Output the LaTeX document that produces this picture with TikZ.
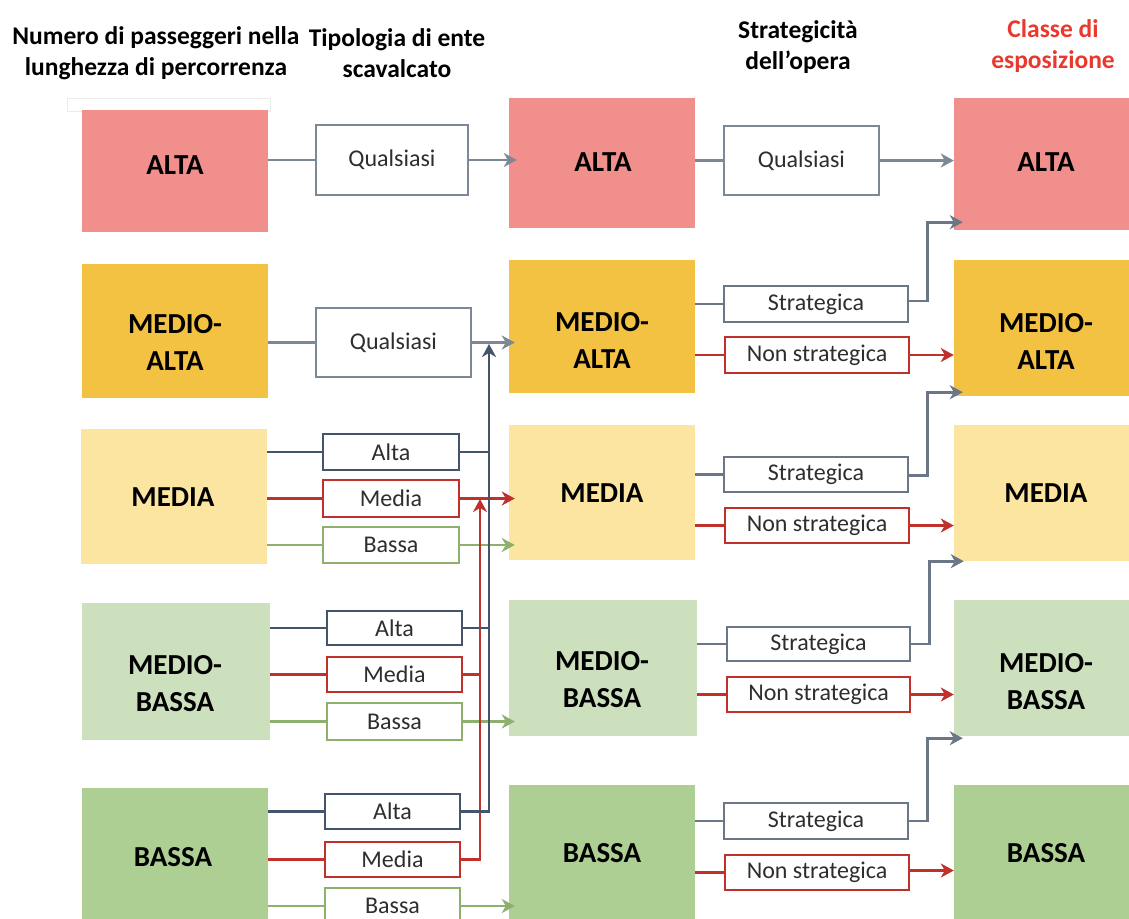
\documentclass[tikz,border=0pt]{standalone}
\usepackage{fontspec}
\setmainfont{Carlito}
\usetikzlibrary{arrows.meta}

\definecolor{clsAlta}{HTML}{F08F8B}
\definecolor{clsMedioAlta}{HTML}{F4C243}
\definecolor{clsMedia}{HTML}{FBE5A1}
\definecolor{clsMedioBassa}{HTML}{CDE0BD}
\definecolor{clsBassa}{HTML}{AECF93}
\definecolor{lnGray}{HTML}{7D8896}
\definecolor{lnSlate}{HTML}{6B7686}
\definecolor{lnDark}{HTML}{44546A}
\definecolor{lnRed}{HTML}{C0312B}
\definecolor{lnGreen}{HTML}{8DB06E}
\definecolor{hdrRed}{HTML}{E8392F}
\definecolor{txtGray}{HTML}{2E2E2E}

\begin{document}
\begin{tikzpicture}[x=1pt,y=-1pt,
  hdr/.style={align=center,font=\bfseries\fontsize{25.5}{31}\selectfont,inner sep=0},
  clsbox/.style={rectangle,draw=none,inner sep=0,minimum width=186pt},
  clstxt/.style={align=center,font=\bfseries\fontsize{29}{37}\selectfont,inner sep=0},
  optbox/.style={rectangle,draw=#1,line width=2.8pt,fill=white,inner sep=0,
    text=txtGray,font=\fontsize{24}{28}\selectfont},
  wire/.style={draw=#1,line width=2.8pt},
  arr/.style={draw=#1,line width=2.8pt,-{Stealth[length=13pt,width=14pt,inset=4pt]}}
]
\useasboundingbox (0,0) rectangle (1129,918);
\clip (0,0) rectangle (1129,918);

% column headings
\node[hdr] (h1) at (156,53) {Numero di passeggeri nella\\lunghezza di percorrenza};
\node[hdr] (h2) at (397,53) {Tipologia di ente\\scavalcato};
\node[hdr] (h3) at (798,47) {Strategicità\\dell’opera};
\node[hdr,text=hdrRed] (h4) at (1053,46) {Classe di\\esposizione};

% thin strip above the first class box
\draw[draw=black!8,fill=white,line width=0.8pt] (67,98) rectangle (270,111);

% left column: passenger classes
\node[clsbox,fill=clsAlta,minimum height=122pt] (L1) at (175,171) {};
\node[clsbox,fill=clsMedioAlta,minimum height=134pt] (L2) at (175,331) {};
\node[clsbox,fill=clsMedia,minimum height=135pt] (L3) at (174,496.5) {};
\node[clsbox,fill=clsMedioBassa,minimum height=137pt,minimum width=188pt] (L4) at (176,671.5) {};
\node[clsbox,fill=clsBassa,minimum height=142pt] (L5) at (175,859) {};
\node[clstxt] (L1t) at (175,165) {ALTA};
\node[clstxt] (L2t) at (175,342) {MEDIO-\\ALTA};
\node[clstxt] (L3t) at (173,497) {MEDIA};
\node[clstxt] (L4t) at (175,684) {MEDIO-\\BASSA};
\node[clstxt] (L5t) at (173,857) {BASSA};

% middle column: intermediate classes
\node[clsbox,fill=clsAlta,minimum height=130pt] (M1) at (602,163) {};
\node[clsbox,fill=clsMedioAlta,minimum height=133pt] (M2) at (602,326.5) {};
\node[clsbox,fill=clsMedia,minimum height=135pt] (M3) at (602,492.5) {};
\node[clsbox,fill=clsMedioBassa,minimum height=136pt,minimum width=188pt] (M4) at (603,668) {};
\node[clsbox,fill=clsBassa,minimum height=140pt] (M5) at (602,855) {};
\node[clstxt] (M1t) at (603,162) {ALTA};
\node[clstxt] (M2t) at (602,340) {MEDIO-\\ALTA};
\node[clstxt] (M3t) at (602,493) {MEDIA};
\node[clstxt] (M4t) at (602,680) {MEDIO-\\BASSA};
\node[clstxt] (M5t) at (602,853) {BASSA};

% right column: exposure classes
\node[clsbox,fill=clsAlta,minimum height=132pt] (R1) at (1047,164) {};
\node[clsbox,fill=clsMedioAlta,minimum height=136pt] (R2) at (1047,328) {};
\node[clsbox,fill=clsMedia,minimum height=136pt] (R3) at (1047,493) {};
\node[clsbox,fill=clsMedioBassa,minimum height=136pt] (R4) at (1047,668) {};
\node[clsbox,fill=clsBassa,minimum height=140pt] (R5) at (1047,855) {};
\node[clstxt] (R1t) at (1046,162) {ALTA};
\node[clstxt] (R2t) at (1046,341) {MEDIO-\\ALTA};
\node[clstxt] (R3t) at (1046,493) {MEDIA};
\node[clstxt] (R4t) at (1046,682) {MEDIO-\\BASSA};
\node[clstxt] (R5t) at (1046,853) {BASSA};

% type of crossed entity
\node[optbox=lnGray,minimum width=152pt,minimum height=70pt] (Q1) at (392,160) {Qualsiasi};
\node[optbox=lnGray,minimum width=155pt,minimum height=69pt] (Q2) at (393.5,342.5) {Qualsiasi};
\node[optbox=lnDark,minimum width=136pt,minimum height=36pt] (A3) at (391,452) {Alta};
\node[optbox=lnRed,minimum width=136pt,minimum height=37pt] (E3) at (391,498.5) {Media};
\node[optbox=lnGreen,minimum width=136pt,minimum height=36pt] (B3) at (391,545) {Bassa};
\node[optbox=lnDark,minimum width=135pt,minimum height=34pt] (A4) at (394.5,628) {Alta};
\node[optbox=lnRed,minimum width=135pt,minimum height=35pt] (E4) at (394.5,674.5) {Media};
\node[optbox=lnGreen,minimum width=135pt,minimum height=37pt] (B4) at (394.5,721.5) {Bassa};
\node[optbox=lnDark,minimum width=135pt,minimum height=35pt] (A5) at (392.5,811.5) {Alta};
\node[optbox=lnRed,minimum width=135pt,minimum height=35pt] (E5) at (392.5,859.5) {Media};
\node[optbox=lnGreen,minimum width=135pt,minimum height=36pt] (B5) at (392.5,906) {Bassa};

% strategic relevance
\node[optbox=lnGray,minimum width=155pt,minimum height=69pt] (S1) at (801.5,160.5) {Qualsiasi};
\node[optbox=lnSlate,minimum width=184pt,minimum height=36pt] (S2) at (816,304) {Strategica};
\node[optbox=lnRed,minimum width=184pt,minimum height=36pt] (N2) at (817,355) {Non strategica};
\node[optbox=lnSlate,minimum width=184pt,minimum height=35pt] (S3) at (816,474.5) {Strategica};
\node[optbox=lnRed,minimum width=184pt,minimum height=35pt] (N3) at (817,525.5) {Non strategica};
\node[optbox=lnSlate,minimum width=183pt,minimum height=34pt] (S4) at (818.5,644) {Strategica};
\node[optbox=lnRed,minimum width=183pt,minimum height=35pt] (N4) at (818.5,694.5) {Non strategica};
\node[optbox=lnSlate,minimum width=184pt,minimum height=36pt] (S5) at (816,821) {Strategica};
\node[optbox=lnRed,minimum width=184pt,minimum height=35pt] (N5) at (817,872.5) {Non strategica};

% bus end points
\coordinate (darkbus) at (489,344);
\coordinate (redbus) at (480,499);

% left column -> type of crossed entity
\draw[wire=lnGray] (Q1.west -| L1.east) -- (Q1.west);
\draw[wire=lnGray] (Q2.west -| L2.east) -- (Q2.west);
\draw[wire=lnDark] (A3.west -| L3.east) -- (A3.west);
\draw[wire=lnRed] (E3.west -| L3.east) -- (E3.west);
\draw[wire=lnGreen] (B3.west -| L3.east) -- (B3.west);
\draw[wire=lnDark] (A4.west -| L4.east) -- (A4.west);
\draw[wire=lnRed] (E4.west -| L4.east) -- (E4.west);
\draw[wire=lnGreen] (B4.west -| L4.east) -- (B4.west);
\draw[wire=lnDark] (A5.west -| L5.east) -- (A5.west);
\draw[wire=lnRed] (E5.west -| L5.east) -- (E5.west);
\draw[wire=lnGreen] (B5.west -| L5.east) -- (B5.west);

% type of crossed entity -> middle column
\draw[arr=lnGray] (Q1.east) -- ([xshift=8pt]Q1.east -| M1.west);
\draw[arr=lnGray] (Q2.east) -- ([xshift=6pt]Q2.east -| M2.west);
\draw[arr=lnRed] (E3.east) -- ([xshift=6pt]E3.east -| M3.west);
\draw[arr=lnGreen] (B3.east) -- ([xshift=6pt]B3.east -| M3.west);
\draw[arr=lnGreen] (B4.east) -- ([xshift=6pt]B4.east -| M4.west);
\draw[arr=lnGreen] (B5.east) -- ([xshift=6pt]B5.east -| M5.west);

% red bus: Media rows rise to MEDIA
\draw[wire=lnRed] (E4.east) -- (E4.east -| redbus);
\draw[arr=lnRed] (E5.east) -| (redbus);

% dark bus: Alta rows rise to MEDIO-ALTA
\draw[wire=lnDark] (A3.east) -- (A3.east -| darkbus);
\draw[wire=lnDark] (A4.east) -- (A4.east -| darkbus);
\draw[arr=lnDark] (A5.east) -| (darkbus);

% middle column -> strategic relevance
\draw[wire=lnGray] (S1.west -| M1.east) -- (S1.west);
\draw[wire=lnSlate] (S2.west -| M2.east) -- (S2.west);
\draw[wire=lnRed] (N2.west -| M2.east) -- (N2.west);
\draw[wire=lnSlate] (S3.west -| M3.east) -- (S3.west);
\draw[wire=lnRed] (N3.west -| M3.east) -- (N3.west);
\draw[wire=lnSlate] (S4.west -| M4.east) -- (S4.west);
\draw[wire=lnRed] (N4.west -| M4.east) -- (N4.west);
\draw[wire=lnSlate] (S5.west -| M5.east) -- (S5.west);
\draw[wire=lnRed] (N5.west -| M5.east) -- (N5.west);

% strategic relevance -> exposure class
\draw[arr=lnGray] (S1.east) -- (S1.east -| R1.west);
\draw[arr=lnSlate] ([yshift=3pt]S2.east) -- ++(18,0) |- ([xshift=9pt,yshift=8pt]R1.south west);
\draw[arr=lnRed] (N2.east) -- (N2.east -| R2.west);
\draw[arr=lnSlate] ([yshift=-1pt]S3.east) -- ++(18,0) |- ([xshift=9pt,yshift=4pt]R2.south west);
\draw[arr=lnRed] (N3.east) -- (N3.east -| R3.west);
\draw[arr=lnSlate] (S4.east) -- ++(18,0) |- ([xshift=10pt,yshift=0pt]R3.south west);
\draw[arr=lnRed] (N4.east) -- (N4.east -| R4.west);
\draw[arr=lnSlate] (S5.east) -- ++(18,0) |- ([xshift=9pt,yshift=-2pt]R4.south west);
\draw[arr=lnRed] ([yshift=2pt]N5.east) -- ([yshift=2pt]N5.east -| R5.west);
\end{tikzpicture}
\end{document}
